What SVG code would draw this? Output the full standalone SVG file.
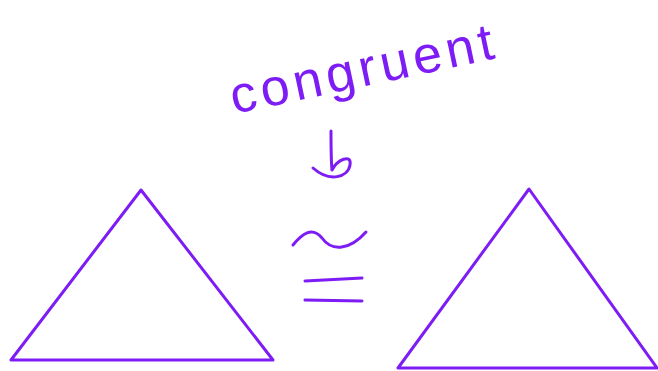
<svg xmlns="http://www.w3.org/2000/svg" width="658" height="371" viewBox="0 0 658 371">
<style>
.ink{fill:none;stroke:#7d1cf5;stroke-width:3;stroke-linecap:round;stroke-linejoin:round}
.hand{font-family:"Liberation Sans","DejaVu Sans",sans-serif;font-size:52px;fill:#7d1cf5}
</style>
<rect width="658" height="371" fill="#ffffff"/>
<g id="left-triangle"><polygon class="ink" points="141,190 11,360 273,360"/></g>
<g id="right-triangle"><polygon class="ink" points="529,189 398,368 657,368"/></g>
<g id="label"><text class="hand" x="234" y="114" textLength="268" lengthAdjust="spacing" transform="rotate(-12 234 114)">congruent</text></g>
<g id="connectors">
<path class="ink" d="M331,131 C331,145 331,160 332,170 C337,160 352,153 350,165 C348,177 330,183 313,168"/>
</g>
<g id="congruent-symbol">
<path class="ink" d="M293,245 C302,234 312,226 322,238 C332,252 350,250 366,232"/>
<path class="ink" d="M305,281 L362,278"/>
<path class="ink" d="M305,300 L362,301"/>
</g>
</svg>
